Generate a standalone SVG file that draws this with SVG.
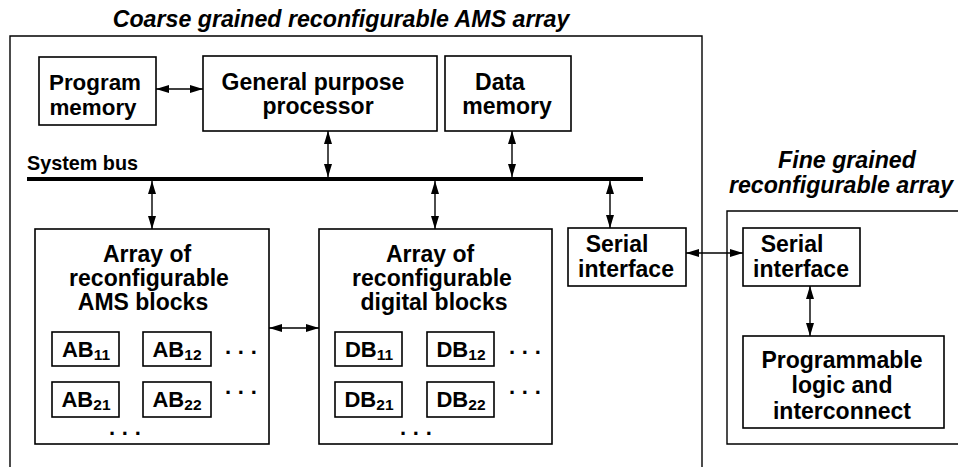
<svg xmlns="http://www.w3.org/2000/svg" width="958" height="467" viewBox="0 0 958 467">
<style>
.box{fill:#fff;stroke:#000;stroke-width:1.6}
.frame{fill:none;stroke:#000;stroke-width:1.4}
.t{font-family:"Liberation Sans",Arial,sans-serif;font-weight:bold;font-size:23px;fill:#000;text-anchor:middle}
.ti{font-family:"Liberation Sans",Arial,sans-serif;font-weight:bold;font-style:italic;font-size:23.2px;fill:#000;text-anchor:middle}
.sb{font-family:"Liberation Sans",Arial,sans-serif;font-weight:bold;font-size:19.8px;fill:#000}
.cell{font-family:"Liberation Sans",Arial,sans-serif;font-weight:bold;font-size:22px;fill:#000;text-anchor:middle}
.sub{font-size:15.5px}
.dots{font-family:"Liberation Sans",Arial,sans-serif;font-weight:bold;font-size:22px;fill:#000;letter-spacing:0.3px}
.c{stroke:#000;stroke-width:1.4;fill:none;marker-start:url(#ah);marker-end:url(#ah)}
</style>
<defs>
<marker id="ah" markerUnits="userSpaceOnUse" markerWidth="14" markerHeight="9" refX="13" refY="4" orient="auto-start-reverse">
<path d="M0,0 L13,4 L0,8 z" fill="#000"/>
</marker>
</defs>
<rect width="958" height="467" fill="#fff"/>

<g id="ams-array">
<path class="frame" d="M10,467 V36 H702 V467"/>
<text class="ti" x="341" y="27">Coarse grained reconfigurable AMS array</text>
</g>

<g id="fine-array">
<path class="frame" d="M960,211 H727 V444 H960"/>
<text class="ti" x="847" y="168">Fine grained</text>
<text class="ti" x="841" y="193">reconfigurable array</text>
</g>

<g id="program-memory">
<rect class="box" x="39" y="57" width="117" height="68"/>
<text class="t" x="95" y="89.5" style="font-size:22.4px">Program</text>
<text class="t" x="93" y="114.5" style="font-size:22.4px">memory</text>
</g>

<g id="gpp">
<rect class="box" x="203" y="56" width="234" height="75"/>
<text class="t" x="313" y="90">General purpose</text>
<text class="t" x="318" y="114">processor</text>
</g>

<g id="data-memory">
<rect class="box" x="445" y="56" width="126" height="75"/>
<text class="t" x="500" y="90">Data</text>
<text class="t" x="507" y="114">memory</text>
</g>

<g id="system-bus">
<line x1="27" y1="179" x2="643" y2="179" stroke="#000" stroke-width="4"/>
<text class="sb" x="27" y="170">System bus</text>
</g>

<g id="ams-blocks">
<rect class="box" x="35" y="229" width="234" height="215"/>
<text class="t" x="147" y="262">Array of</text>
<text class="t" x="149" y="286">reconfigurable</text>
<text class="t" x="143" y="310">AMS blocks</text>
<rect class="box" x="52" y="332" width="67" height="34"/>
<text class="cell" x="86" y="357">AB<tspan class="sub" dy="3">11</tspan></text>
<rect class="box" x="143" y="332" width="68" height="34"/>
<text class="cell" x="177" y="357">AB<tspan class="sub" dy="3">12</tspan></text>
<rect class="box" x="52" y="382" width="67" height="35"/>
<text class="cell" x="86" y="407">AB<tspan class="sub" dy="3">21</tspan></text>
<rect class="box" x="143" y="382" width="68" height="35"/>
<text class="cell" x="177" y="407">AB<tspan class="sub" dy="3">22</tspan></text>
<text class="dots" x="225" y="353.5">. . .</text>
<text class="dots" x="225" y="393.5">. . .</text>
<text class="dots" x="109" y="434.5">. . .</text>
</g>

<g id="digital-blocks">
<rect class="box" x="319" y="229" width="233" height="215"/>
<text class="t" x="430" y="262">Array of</text>
<text class="t" x="432" y="286">reconfigurable</text>
<text class="t" x="434" y="310">digital blocks</text>
<rect class="box" x="335" y="332" width="67" height="34"/>
<text class="cell" x="369" y="357">DB<tspan class="sub" dy="3">11</tspan></text>
<rect class="box" x="427" y="332" width="67" height="34"/>
<text class="cell" x="461" y="357">DB<tspan class="sub" dy="3">12</tspan></text>
<rect class="box" x="335" y="382" width="67" height="35"/>
<text class="cell" x="369" y="407">DB<tspan class="sub" dy="3">21</tspan></text>
<rect class="box" x="427" y="382" width="67" height="35"/>
<text class="cell" x="461" y="407">DB<tspan class="sub" dy="3">22</tspan></text>
<text class="dots" x="509" y="353.5">. . .</text>
<text class="dots" x="509" y="393.5">. . .</text>
<text class="dots" x="400" y="434.5">. . .</text>
</g>

<g id="serial-left">
<rect class="box" x="568" y="228" width="118" height="58"/>
<text class="t" x="617" y="252">Serial</text>
<text class="t" x="626" y="277">interface</text>
</g>

<g id="serial-right">
<rect class="box" x="743" y="228" width="117" height="58"/>
<text class="t" x="792" y="252">Serial</text>
<text class="t" x="801" y="277">interface</text>
</g>

<g id="programmable-logic">
<rect class="box" x="743" y="336" width="201" height="92"/>
<text class="t" x="842" y="368">Programmable</text>
<text class="t" x="842" y="393">logic and</text>
<text class="t" x="842" y="419">interconnect</text>
</g>

<g id="connectors">
<line class="c" x1="156" y1="89" x2="203" y2="89"/>
<line class="c" x1="328" y1="131" x2="328" y2="177"/>
<line class="c" x1="512" y1="131" x2="512" y2="177"/>
<line class="c" x1="152" y1="181" x2="152" y2="229"/>
<line class="c" x1="435" y1="181" x2="435" y2="229"/>
<line class="c" x1="610" y1="181" x2="610" y2="228"/>
<line class="c" x1="269" y1="328" x2="319" y2="328"/>
<line class="c" x1="686" y1="253" x2="743" y2="253"/>
<line class="c" x1="810" y1="286" x2="810" y2="336"/>
</g>
</svg>
